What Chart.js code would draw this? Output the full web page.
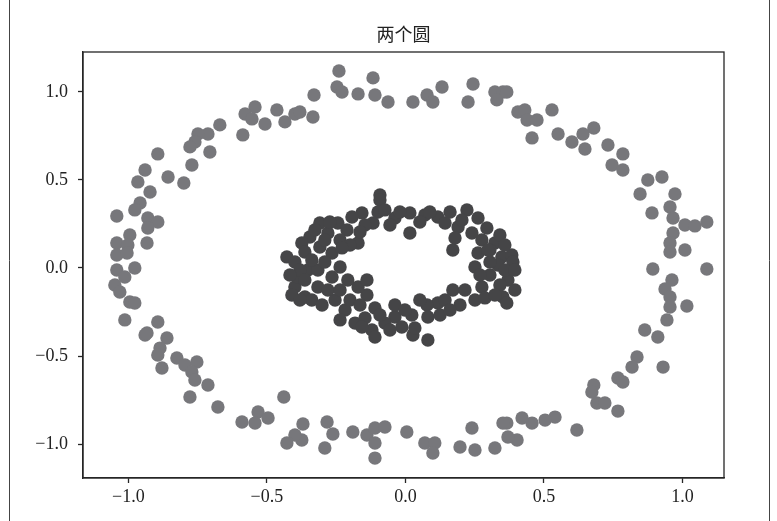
<!DOCTYPE html>
<html>
<head>
<meta charset="utf-8">
<title>两个圆</title>
<script src="https://cdn.jsdelivr.net/npm/chart.js@4/dist/chart.umd.min.js"></script>
<style>
    html, body { margin: 0; padding: 0; background: #ffffff; }
    #wrap { width: 777px; height: 521px; }
</style>
</head>
<body>
<div id="wrap"><canvas id="circles-chart" width="777" height="521"></canvas></div>
<script>
const chartTitle = '两个圆';
const xTicks = [-1.0, -0.5, 0.0, 0.5, 1.0];
const yTicks = [-1.0, -0.5, 0.0, 0.5, 1.0];

// outer ring (class 0)
const outerX = [
    -0.543, -0.579, -0.554, -0.464, -0.435, -0.399, -0.507, -0.587, -0.670, -0.713,
    -0.749, -0.760, -0.778, -0.706, -0.771, -0.894, -0.940, -0.966, -0.857, -0.800,
    -0.922, -0.381, -0.334, -0.330, -0.240, -0.247, -0.229, -0.171, -0.117, -0.110,
    -0.063, 0.027, 0.078, 0.099, 0.132, 0.244, 0.226, 0.323, 0.352, 0.330,
    0.366, 0.406, 0.431, 0.439, 0.475, 0.529, 0.457, 0.551, 0.601, 0.641,
    0.680, 0.648, 0.731, 0.785, 0.746, 0.785, 0.875, 0.926, 0.847, 0.973,
    0.890, 0.955, 0.966, 1.009, 1.045, 1.088, 0.966, 0.955, 1.009, 0.955,
    0.893, 1.088, 0.962, 0.937, 0.955, 0.955, 1.016, 0.944, 0.864, 0.911,
    0.836, 0.818, 0.930, 0.767, 0.785, 0.680, 0.673, 0.691, 0.720, 0.767,
    0.540, 0.504, 0.457, 0.421, 0.366, 0.403, 0.619, -0.370, -0.374, -0.399,
    -0.283, -0.262, -0.291, -0.190, -0.139, -0.110, -0.074, -0.110, -0.110, 0.005,
    0.070, 0.106, 0.099, 0.197, 0.240, 0.251, 0.323, 0.352, 0.370, -0.940,
    -0.861, -0.886, -0.894, -0.879, -0.825, -0.796, -0.753, -0.771, -0.760, -0.713,
    -0.778, -0.677, -0.590, -0.532, -0.543, -0.496, -0.439, -0.428, -0.958, -0.977,
    -1.042, -0.930, -0.894, -0.930, -0.995, -1.042, -1.002, -0.933, -1.042, -1.005,
    -1.042, -0.977, -1.013, -1.049, -1.031, -0.995, -0.977, -1.013, -0.894, -0.933
];
const outerY = [
    0.915, 0.875, 0.847, 0.898, 0.830, 0.875, 0.818, 0.756, 0.813, 0.761,
    0.761, 0.716, 0.688, 0.659, 0.585, 0.648, 0.557, 0.489, 0.517, 0.483,
    0.432, 0.886, 0.858, 0.983, 1.119, 1.028, 1.000, 0.989, 1.080, 0.983,
    0.943, 0.943, 0.983, 0.943, 1.028, 1.045, 0.943, 1.000, 1.000, 0.955,
    1.000, 0.886, 0.898, 0.841, 0.841, 0.898, 0.739, 0.761, 0.716, 0.761,
    0.795, 0.676, 0.699, 0.648, 0.585, 0.557, 0.500, 0.517, 0.420, 0.420,
    0.313, 0.347, 0.284, 0.244, 0.239, 0.261, 0.199, 0.142, 0.102, 0.091,
    -0.006, -0.006, -0.068, -0.119, -0.165, -0.222, -0.216, -0.295, -0.352, -0.392,
    -0.506, -0.563, -0.563, -0.625, -0.648, -0.665, -0.705, -0.767, -0.767, -0.813,
    -0.847, -0.864, -0.881, -0.852, -0.881, -0.977, -0.920, -0.886, -0.977, -0.949,
    -0.875, -0.943, -1.023, -0.932, -0.949, -0.909, -0.903, -0.994, -1.080, -0.932,
    -0.994, -0.994, -1.051, -1.017, -0.909, -1.034, -1.023, -0.881, -0.960, -0.381,
    -0.398, -0.455, -0.494, -0.568, -0.511, -0.551, -0.534, -0.591, -0.636, -0.665,
    -0.733, -0.790, -0.875, -0.818, -0.881, -0.852, -0.733, -0.994, 0.369, 0.330,
    0.295, 0.284, 0.261, 0.227, 0.188, 0.142, 0.131, 0.142, 0.074, 0.085,
    -0.011, 0.000, -0.051, -0.097, -0.136, -0.193, -0.199, -0.295, -0.307, -0.369
];

// inner ring (class 1)
const innerX = [
    -0.092, -0.092, -0.099, -0.157, -0.193, -0.244, -0.309, -0.345, -0.374, -0.363,
    -0.280, -0.211, -0.171, -0.117, -0.038, 0.016, 0.016, 0.070, 0.117, 0.143,
    0.222, 0.190, 0.240, 0.294, 0.323, 0.171, 0.262, 0.251, 0.348, 0.370,
    0.352, 0.276, 0.251, 0.171, 0.117, 0.078, 0.081, 0.023, -0.038, -0.013,
    -0.074, -0.110, -0.121, -0.182, -0.218, -0.254, -0.139, -0.171, -0.139, -0.208,
    -0.236, -0.265, -0.316, -0.363, -0.399, -0.352, -0.316, -0.265, -0.309, -0.428,
    -0.410, -0.388, 0.384, 0.388, 0.366, -0.110, 0.027, 0.081,
    -0.327, -0.291, -0.236, -0.200, -0.146, -0.074, -0.056, -0.020, 0.052, 0.088,
    0.161, 0.179, 0.204, 0.262, 0.276, 0.341, 0.305, -0.273, -0.164, -0.229,
    -0.399, -0.381, -0.417, -0.363, -0.338, -0.291, -0.280, -0.236, -0.338, -0.301,
    -0.381, -0.200, -0.164, -0.146, -0.092, -0.056, -0.038, -0.002, 0.034, 0.052,
    0.125, 0.143, 0.197, 0.215, 0.287, 0.305, 0.161, -0.236, -0.157, 0.334,
    0.359, 0.305, 0.395, 0.341, 0.323, 0.395, 0.298, 0.359, 0.269
];
const innerY = [
    0.415, 0.386, 0.318, 0.313, 0.290, 0.256, 0.256, 0.176, 0.142, 0.091,
    0.199, 0.216, 0.142, 0.256, 0.284, 0.313, 0.199, 0.301, 0.290, 0.256,
    0.330, 0.233, 0.199, 0.227, 0.142, 0.102, 0.085, 0.006, 0.063, -0.068,
    -0.165, -0.108, -0.182, -0.125, -0.199, -0.210, -0.278, -0.267, -0.278, -0.335,
    -0.313, -0.227, -0.352, -0.313, -0.239, -0.182, -0.153, -0.108, -0.068, -0.068,
    0.006, -0.051, -0.108, -0.165, -0.108, -0.011, -0.011, 0.085, 0.119, 0.063,
    -0.153, -0.051, 0.074, 0.034, -0.199, -0.392, -0.381, -0.409,
    0.216, 0.159, 0.159, 0.131, 0.244, 0.330, 0.244, 0.318, 0.261, 0.318,
    0.318, 0.170, 0.273, 0.284, 0.159, 0.188, 0.102, 0.261, 0.205, 0.114,
    0.034, -0.011, -0.040, -0.068, 0.045, 0.034, -0.125, -0.125, -0.182, -0.210,
    -0.182, -0.182, -0.210, -0.284, -0.267, -0.352, -0.210, -0.239, -0.341, -0.182,
    -0.267, -0.182, -0.210, -0.125, -0.170, -0.040, -0.239, -0.295, -0.335, 0.017,
    -0.011, 0.034, -0.011, -0.097, -0.153, -0.125, 0.102, 0.131, -0.040
];

const outerColor = '#77777b';
const innerColor = '#454547';
const axisColor = '#262626';
const tickFont = { family: "'Liberation Serif', 'DejaVu Serif', serif", size: 18 };

function toPoints(xs, ys) {
    return xs.map((x, i) => ({ x: x, y: ys[i] }));
}

function formatTick(value) {
    const text = Math.abs(value).toFixed(1);
    return value < 0 ? '\u2212' + text : text;
}

// full box around the plotting area plus the thin figure edge lines
const frameBox = {
    id: 'frameBox',
    afterDraw(chart) {
        const { ctx, chartArea } = chart;
        ctx.save();
        ctx.strokeStyle = axisColor;
        ctx.lineWidth = 1.3;
        ctx.strokeRect(chartArea.left, chartArea.top,
            chartArea.right - chartArea.left, chartArea.bottom - chartArea.top);
        ctx.strokeStyle = '#444444';
        ctx.lineWidth = 1;
        ctx.beginPath();
        ctx.moveTo(9.5, 0);
        ctx.lineTo(9.5, chart.height);
        ctx.moveTo(769.5, 0);
        ctx.lineTo(769.5, chart.height);
        ctx.stroke();
        ctx.restore();
    }
};

const circlesChart = new Chart(document.getElementById('circles-chart'), {
    type: 'scatter',
    data: {
        datasets: [
            {
                label: 'outer',
                data: toPoints(outerX, outerY),
                backgroundColor: outerColor,
                borderWidth: 0,
                pointRadius: 6.7,
                pointHoverRadius: 6.7
            },
            {
                label: 'inner',
                data: toPoints(innerX, innerY),
                backgroundColor: innerColor,
                borderWidth: 0,
                pointRadius: 6.7,
                pointHoverRadius: 6.7
            }
        ]
    },
    options: {
        responsive: false,
        animation: false,
        devicePixelRatio: 1,
        layout: { padding: { left: 0, right: 53, top: 0, bottom: 0 } },
        plugins: {
            legend: { display: false },
            tooltip: { enabled: false },
            title: {
                display: true,
                text: chartTitle,
                fullSize: false,
                color: '#222222',
                font: { family: "'Noto Sans CJK SC', sans-serif", size: 18, weight: 'normal' },
                padding: { top: 23, bottom: 7.4 }
            }
        },
        scales: {
            x: {
                type: 'linear',
                min: -1.164,
                max: 1.150,
                afterBuildTicks: scale => { scale.ticks = xTicks.map(v => ({ value: v })); },
                afterFit: scale => { scale.height = 43; },
                grid: { drawOnChartArea: false, drawTicks: true, tickLength: 5, tickColor: axisColor, tickWidth: 1.3 },
                border: { display: true, color: axisColor, width: 1.3 },
                ticks: { color: '#222222', font: tickFont, padding: 3, maxRotation: 0, callback: formatTick }
            },
            y: {
                type: 'linear',
                min: -1.193,
                max: 1.227,
                afterBuildTicks: scale => { scale.ticks = yTicks.map(v => ({ value: v })); },
                afterFit: scale => { scale.width = 83; },
                grid: { drawOnChartArea: false, drawTicks: true, tickLength: 5, tickColor: axisColor, tickWidth: 1.3 },
                border: { display: true, color: axisColor, width: 1.3 },
                ticks: { color: '#222222', font: tickFont, padding: 10, callback: formatTick }
            }
        }
    },
    plugins: [frameBox]
});
</script>
</body>
</html>
